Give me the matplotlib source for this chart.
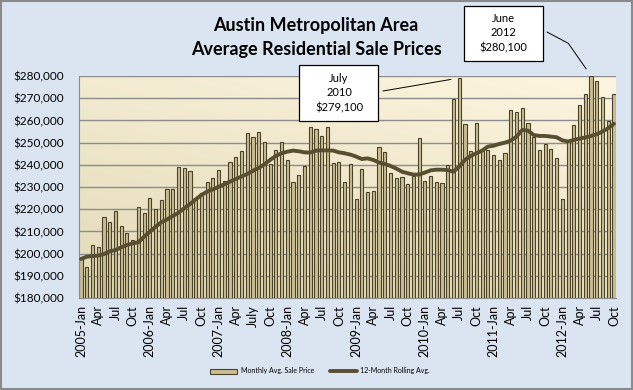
import numpy as np
import matplotlib.pyplot as plt
from matplotlib.patches import Rectangle
from matplotlib.colors import LinearSegmentedColormap
from matplotlib.ticker import FuncFormatter

plt.rcParams['font.family'] = ['Lato', 'DejaVu Sans']

# Monthly average sale price, thousands of $, 2005-Jan .. 2012-Oct
monthly_k = [
    197.6, 194.0, 203.9, 203.0, 216.5, 214.2, 219.2, 212.6, 209.4, 206.1, 221.0, 218.3,  # 2005
    225.2, 220.1, 224.1, 229.1, 229.3, 239.0, 238.5, 237.2, 225.0, 227.3, 232.2, 234.0,  # 2006
    237.6, 232.8, 241.2, 243.5, 246.3, 254.3, 252.5, 254.8, 250.3, 240.5, 246.8, 250.1,  # 2007
    242.3, 232.2, 235.4, 239.6, 257.0, 256.1, 253.0, 257.0, 240.8, 241.2, 232.2, 240.3,  # 2008
    224.5, 238.0, 227.6, 228.1, 247.9, 245.7, 236.2, 234.0, 234.3, 231.4, 234.9, 252.1,  # 2009
    232.6, 235.0, 232.2, 231.9, 239.7, 269.6, 279.1, 258.4, 246.1, 258.7, 247.1, 246.8,  # 2010
    244.5, 242.0, 245.2, 264.6, 263.6, 265.4, 258.7, 252.7, 246.6, 249.4, 247.0, 242.9,  # 2011
    224.4, 250.3, 257.8, 266.9, 271.8, 280.1, 277.6, 270.4, 259.7, 271.7,                # 2012
]

# 12-month rolling average as drawn, thousands of $
rolling_k = [
    197.6, 198.6, 198.9, 199.1, 199.8, 201.0, 201.6, 202.8, 203.9, 204.6, 205.1, 207.6,
    209.9, 212.1, 214.1, 215.4, 216.9, 218.4, 220.4, 222.3, 224.4, 226.4, 227.9, 228.9,
    230.1, 231.2, 232.4, 233.6, 234.7, 235.9, 237.3, 238.6, 240.2, 242.2, 244.0, 245.2,
    245.9, 246.4, 246.1, 245.6, 245.5, 246.4, 246.5, 246.5, 246.4, 245.6, 245.2, 244.6,
    243.7, 242.6, 242.9, 242.2, 241.0, 240.4, 239.5, 238.3, 236.9, 236.2, 235.6, 235.6,
    236.5, 237.5, 237.8, 237.8, 237.6, 236.9, 239.2, 242.2, 244.0, 245.2, 246.4, 248.2,
    248.6, 249.4, 250.0, 250.9, 252.7, 255.7, 255.4, 253.4, 253.0, 253.0, 252.7, 252.4,
    251.0, 250.5, 251.2, 251.8, 252.3, 253.0, 253.8, 255.0, 256.5, 258.5,
]

tick_labels = [
    "2005-Jan", "Apr", "Jul", "Oct", "2006-Jan", "Apr", "Jul", "Oct",
    "2007-Jan", "Apr", "July", "Oct", "2008-Jan", "Apr", "Jul", "Oct",
    "2009-Jan", "Apr", "Jul", "Oct", "2010-Jan", "Apr", "Jul", "Oct",
    "2011-Jan", "Apr", "Jul", "Oct", "2012-Jan", "Apr", "Jul", "Oct",
]

months = np.arange(len(monthly_k))
monthly = np.array(monthly_k) * 1000
rolling = np.array(rolling_k) * 1000

W, H = 633, 390
fig = plt.figure(figsize=(W / 100, H / 100), dpi=100)
fig.patch.set_facecolor('#DBE5F1')
fig.patches.append(Rectangle((0.001, 0.002), 0.997, 0.995, transform=fig.transFigure,
                             fill=False, edgecolor='#8A8A8A', lw=1.5))

ax = fig.add_axes([79 / W, 1 - 298 / H, 537 / W, 222 / H])

# plot area gradient (dark bottom-left -> light top-right)
cmap = LinearSegmentedColormap.from_list('bg', ['#E3DAB8', '#FDF5DF'])
xx, yy = np.meshgrid(np.linspace(0, 1, 200), np.linspace(0, 1, 200))
ax.imshow((xx * 0.6 + yy) / 1.6, extent=(0, 1, 0, 1), transform=ax.transAxes,
          origin='lower', aspect='auto', cmap=cmap, zorder=0)

bars = ax.bar(months, monthly, width=0.55, color='#C9BE91', edgecolor='#4B4329',
              linewidth=0.8, zorder=2, label='Monthly Avg. Sale Price')
line, = ax.plot(months, rolling, color='#584E30', lw=2.8, zorder=3,
                solid_capstyle='round', label='12-Month Rolling Avg.')

ax.set_xlim(-0.36, len(months) - 0.64)
ax.set_ylim(180000, 280000)
ax.set_yticks(range(180000, 280001, 10000))
ax.yaxis.set_major_formatter(FuncFormatter(lambda v, p: '${:,.0f}'.format(v)))
ax.set_xticks(months[::3])
ax.set_xticklabels(tick_labels, rotation=90)
ax.yaxis.grid(True, color='#8C8C8C', lw=1)
ax.set_axisbelow(True)
ax.tick_params(axis='y', length=0, pad=11, labelsize=8.5)
ax.tick_params(axis='x', length=0, pad=5, labelsize=9)
for s in ['top', 'right']:
    ax.spines[s].set_visible(False)
for s in ['left', 'bottom']:
    ax.spines[s].set_color('#8C8C8C')

# title
fig.text(316 / W, 1 - 25 / H, 'Austin Metropolitan Area', ha='center', va='center',
         fontsize=13, fontweight='bold')
fig.text(316 / W, 1 - 50 / H, 'Average Residential Sale Prices', ha='center', va='center',
         fontsize=13, fontweight='bold')

# callout boxes
fig.patches.append(Rectangle((299 / W, 1 - 121 / H), 79 / W, 56 / H, transform=fig.transFigure,
                             facecolor='white', edgecolor='black', lw=0.9, zorder=5))
fig.text(339 / W, 1 - 93 / H, 'July\n2010\n$279,100', ha='center', va='center',
         fontsize=8, linespacing=1.4, zorder=6)
ax.annotate('', xy=(66, monthly[66]), xycoords='data',
            xytext=(383 / W, 1 - 91 / H), textcoords='figure fraction',
            arrowprops=dict(arrowstyle='-', color='black', lw=0.7,
                            shrinkA=0, shrinkB=6), annotation_clip=False)

fig.patches.append(Rectangle((464 / W, 1 - 61 / H), 79 / W, 55 / H, transform=fig.transFigure,
                             facecolor='white', edgecolor='black', lw=0.9, zorder=5))
fig.text(503 / W, 1 - 33 / H, 'June\n2012\n$280,100', ha='center', va='center',
         fontsize=8, linespacing=1.4, zorder=6)
ax.annotate('', xy=(89, monthly[89]), xycoords='data',
            xytext=(547 / W, 1 - 32 / H), textcoords='figure fraction',
            arrowprops=dict(arrowstyle='-', color='black', lw=0.7,
                            connectionstyle='angle,angleA=-28,angleB=125,rad=0',
                            shrinkA=0, shrinkB=6), annotation_clip=False)

fig.legend(handles=[bars, line], loc='center', bbox_to_anchor=(320 / W, 1 - 371 / H),
           ncol=2, frameon=False, fontsize=5, handlelength=3.9, columnspacing=2.3,
           handletextpad=0.5)

fig.savefig('out.png', dpi=100, facecolor=fig.get_facecolor())
